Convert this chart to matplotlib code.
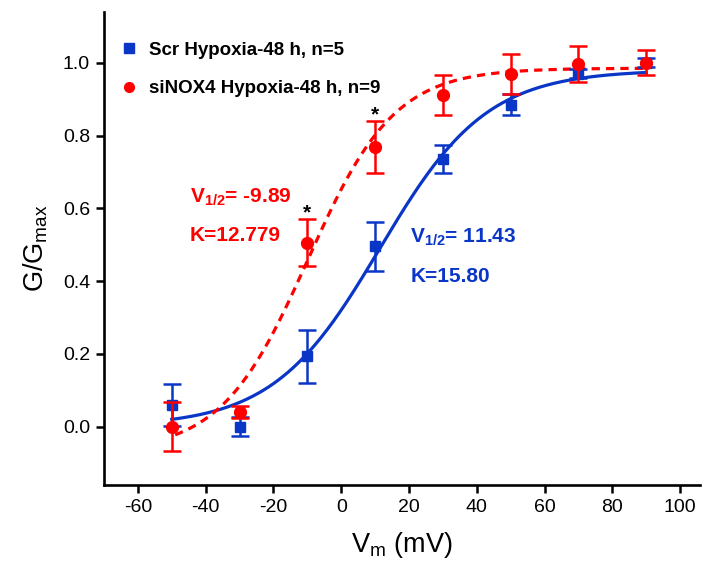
import numpy as np
import matplotlib
matplotlib.use("Agg")
import matplotlib.pyplot as plt
from matplotlib.lines import Line2D

plt.rcParams['font.family'] = ['Liberation Sans', 'DejaVu Sans']
plt.rcParams['mathtext.default'] = 'regular'
plt.rcParams['axes.unicode_minus'] = False

# Data
voltage = [-50, -30, -10, 10, 30, 50, 70, 90]

scr_mean = [0.06, 0.0, 0.193, 0.495, 0.735, 0.885, 0.97, 1.0]
scr_err = [0.058, 0.025, 0.073, 0.068, 0.038, 0.028, 0.012, 0.013]

nox_mean = [0.0, 0.04, 0.505, 0.768, 0.912, 0.97, 0.997, 1.0]
nox_err = [0.068, 0.017, 0.065, 0.071, 0.055, 0.055, 0.05, 0.034]

# Boltzmann fit parameters (V1/2, K shown on chart; bottom/top)
scr_fit = dict(vhalf=11.43, k=15.80, bottom=0.0, top=0.98)
nox_fit = dict(vhalf=-9.89, k=12.779, bottom=-0.07, top=0.985)

star_x = [-10, 10]

blue = '#0A36C8'
red = '#FF0000'


def boltzmann(v, vhalf, k, bottom, top):
    return bottom + (top - bottom) / (1 + np.exp((vhalf - v) / k))


fig = plt.figure(figsize=(7.05, 5.63), dpi=100)
ax = fig.add_axes([0.1475, 0.139, 0.846, 0.84])

# fitted curves
v_scr = np.linspace(-50, 90, 300)
v_nox = np.linspace(-49, 90, 300)
ax.plot(v_scr, boltzmann(v_scr, **scr_fit), color=blue, lw=2.3, zorder=3)
ax.plot(v_nox, boltzmann(v_nox, **nox_fit), color=red, lw=2.3,
        linestyle=(0, (2.6, 1.9)), zorder=3)

# data points with error bars
ax.errorbar(voltage, scr_mean, yerr=scr_err, fmt='s', color=blue, ms=7.2,
            elinewidth=1.8, capsize=6.5, capthick=1.8, zorder=4)
ax.errorbar(voltage, nox_mean, yerr=nox_err, fmt='o', color=red, ms=8.5,
            elinewidth=1.8, capsize=6.5, capthick=1.8, zorder=5)

# significance stars above siNOX4 points
for x in star_x:
    i = voltage.index(x)
    ax.text(x, nox_mean[i] + nox_err[i] - 0.008, '*', ha='center', va='bottom',
            fontsize=15, fontweight='bold', color='black')

# fit annotations
ax.text(-44.7, 0.63, 'V$_{1/2}$= -9.89', color=red, fontsize=15,
        fontweight='bold', va='center', ha='left')
ax.text(-44.7, 0.525, 'K=12.779', color=red, fontsize=15,
        fontweight='bold', va='center', ha='left')
ax.text(20.4, 0.52, 'V$_{1/2}$= 11.43', color=blue, fontsize=15,
        fontweight='bold', va='center', ha='left')
ax.text(20.4, 0.413, 'K=15.80', color=blue, fontsize=15,
        fontweight='bold', va='center', ha='left')

# legend
handles = [
    Line2D([], [], marker='s', color=blue, ls='none', ms=6.5),
    Line2D([], [], marker='o', color=red, ls='none', ms=7),
]
labels = ['Scr Hypoxia-48 h, n=5', 'siNOX4 Hypoxia-48 h, n=9']
ax.legend(handles, labels, loc='upper left', bbox_to_anchor=(0.004, 0.965),
          frameon=False, prop=dict(weight='bold', size=13.5),
          handlelength=1.0, handletextpad=0.6, labelspacing=1.15,
          borderaxespad=0.3)

ax.set_xlim(-70, 106)
ax.set_ylim(-0.16, 1.14)
ax.set_xticks(range(-60, 101, 20))
ax.set_yticks(np.arange(0, 1.01, 0.2))
ax.set_yticklabels([f'{t:.1f}' for t in np.arange(0, 1.01, 0.2)])

ax.spines['top'].set_visible(False)
ax.spines['right'].set_visible(False)
for s in ['left', 'bottom']:
    ax.spines[s].set_linewidth(1.9)
ax.tick_params(width=1.8, length=6, labelsize=14, pad=4)

ax.set_xlabel('V$_m$ (mV)', fontsize=19.5, labelpad=10)
ax.set_ylabel('G/G$_{max}$', fontsize=19.5, labelpad=9)

fig.savefig('out.png', dpi=100)
